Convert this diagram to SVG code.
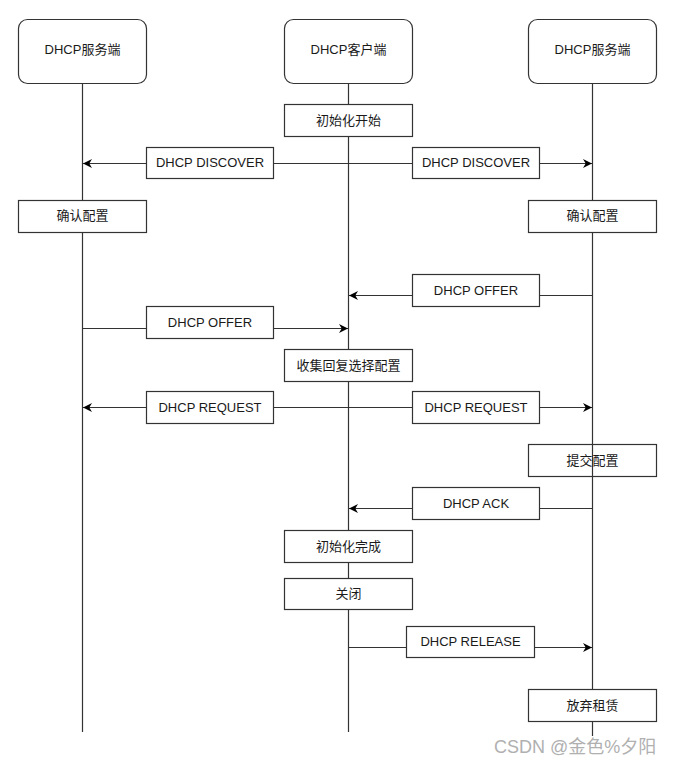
<svg xmlns="http://www.w3.org/2000/svg" width="673" height="765" viewBox="0 0 673 765">
<style>
  .box { fill: #ffffff; stroke: #333333; stroke-width: 1.2; }
  .t { font-family: "Liberation Sans", Arial, "Noto Sans CJK SC", sans-serif; font-size: 13px; fill: #1a1a1a; text-anchor: middle; dominant-baseline: central; }
  .ln { stroke: #333333; stroke-width: 1.2; fill: none; }
  .wm { font-family: "Liberation Sans", Arial, "Noto Sans CJK SC", sans-serif; font-size: 18px; fill: #b0b0b0; }
</style>
<defs>
  <marker id="arr" viewBox="0 0 10 10" refX="10" refY="5" markerWidth="9" markerHeight="9" markerUnits="userSpaceOnUse" orient="auto">
    <path d="M0,0 L10,5 L0,10 L3,5 z" fill="#000000"/>
  </marker>
</defs>
<g id="lifelines">
  <line class="ln" x1="82.5" y1="83" x2="82.5" y2="732"/>
  <line class="ln" x1="348.5" y1="83" x2="348.5" y2="732"/>
  <line class="ln" x1="592.5" y1="83" x2="592.5" y2="736"/>
</g>
<g id="connectors">
  <line class="ln" x1="348.5" y1="163.5" x2="83" y2="163.5" marker-end="url(#arr)"/>
  <line class="ln" x1="348.5" y1="163.5" x2="592" y2="163.5" marker-end="url(#arr)"/>
  <line class="ln" x1="592.5" y1="295.5" x2="349" y2="295.5" marker-end="url(#arr)"/>
  <line class="ln" x1="82.5" y1="328.5" x2="348" y2="328.5" marker-end="url(#arr)"/>
  <line class="ln" x1="348.5" y1="407.5" x2="83" y2="407.5" marker-end="url(#arr)"/>
  <line class="ln" x1="348.5" y1="407.5" x2="592" y2="407.5" marker-end="url(#arr)"/>
  <line class="ln" x1="592.5" y1="508.5" x2="349" y2="508.5" marker-end="url(#arr)"/>
  <line class="ln" x1="348.5" y1="647.5" x2="592" y2="647.5" marker-end="url(#arr)"/>
</g>
<g id="server-left"><rect class="box" x="18.5" y="19.5" width="128" height="64" rx="9"/><text class="t" x="82.5" y="49.5">DHCP服务端</text></g>
<g id="client"><rect class="box" x="284.5" y="19.5" width="128" height="64" rx="9"/><text class="t" x="348.5" y="49.5">DHCP客户端</text></g>
<g id="server-right"><rect class="box" x="528.5" y="19.5" width="128" height="64" rx="9"/><text class="t" x="592.5" y="49.5">DHCP服务端</text></g>
<g id="init-start"><rect class="box" x="284.5" y="104.5" width="128" height="32"/><text class="t" x="348.5" y="120.5">初始化开始</text></g>
<g id="discover-left"><rect class="box" x="146.5" y="147.5" width="127" height="31"/><text class="t" x="210" y="162.5">DHCP DISCOVER</text></g>
<g id="discover-right"><rect class="box" x="412.5" y="147.5" width="127" height="31"/><text class="t" x="476" y="162.5">DHCP DISCOVER</text></g>
<g id="confirm-left"><rect class="box" x="18.5" y="200.5" width="128" height="32"/><text class="t" x="82.5" y="215.5">确认配置</text></g>
<g id="confirm-right"><rect class="box" x="528.5" y="200.5" width="128" height="32"/><text class="t" x="592.5" y="215.5">确认配置</text></g>
<g id="offer-right"><rect class="box" x="412.5" y="274.5" width="127" height="32"/><text class="t" x="476" y="290">DHCP OFFER</text></g>
<g id="offer-left"><rect class="box" x="146.5" y="306.5" width="127" height="32"/><text class="t" x="210" y="322">DHCP OFFER</text></g>
<g id="collect"><rect class="box" x="284.5" y="349.5" width="128" height="32"/><text class="t" x="348.5" y="365">收集回复选择配置</text></g>
<g id="request-left"><rect class="box" x="146.5" y="391.5" width="127" height="32"/><text class="t" x="210" y="407">DHCP REQUEST</text></g>
<g id="request-right"><rect class="box" x="412.5" y="391.5" width="127" height="32"/><text class="t" x="476" y="407">DHCP REQUEST</text></g>
<g id="commit"><rect class="box" x="528.5" y="444.5" width="128" height="32"/><text class="t" x="592.5" y="460.5">提交配置</text><line class="ln" x1="592.5" y1="444" x2="592.5" y2="477"/></g>
<g id="ack"><rect class="box" x="412.5" y="487.5" width="127" height="32"/><text class="t" x="476" y="503">DHCP ACK</text></g>
<g id="init-done"><rect class="box" x="284.5" y="530.5" width="128" height="32"/><text class="t" x="348.5" y="546">初始化完成</text></g>
<g id="close"><rect class="box" x="284.5" y="578.5" width="128" height="31"/><text class="t" x="348.5" y="593.5">关闭</text></g>
<g id="release"><rect class="box" x="406.5" y="626.5" width="128" height="31"/><text class="t" x="470.5" y="641.5">DHCP RELEASE</text></g>
<g id="abandon"><rect class="box" x="528.5" y="689.5" width="128" height="32"/><text class="t" x="592.5" y="705">放弃租赁</text></g>
<text class="wm" x="494" y="753">CSDN @金色%夕阳</text>
</svg>
